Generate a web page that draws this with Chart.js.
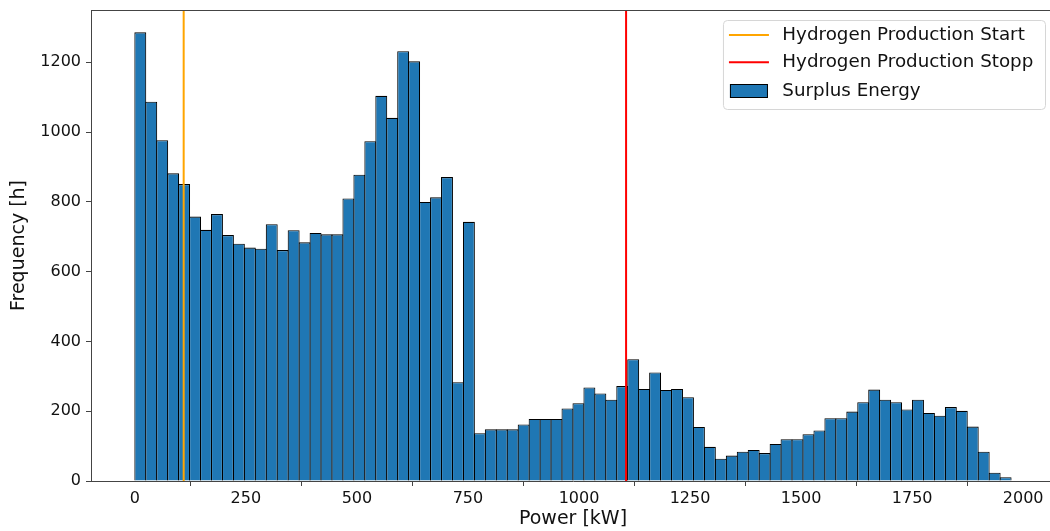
<!DOCTYPE html>
<html>
<head>
<meta charset="utf-8">
<script src="https://cdn.jsdelivr.net/npm/chart.js@4/dist/chart.umd.min.js"></script>
<style>
  html, body { margin: 0; padding: 0; background: #ffffff; overflow: hidden; }
  #wrap { width: 1055px; height: 531px; }
</style>
</head>
<body>
<div id="wrap"><canvas id="c" width="1055" height="531"></canvas></div>
<script>
// ---- data ----
const binWidth = 24.66;          // kW per histogram bin
const binCounts = [
  1286, 1087, 977, 882, 851, 758, 720, 765, 705, 680,
  669, 666, 736, 662, 719, 684, 711, 707, 707, 810,
  878, 974, 1104, 1041, 1232, 1203, 800, 813, 871, 283,
  743, 137, 148, 148, 148, 162, 178, 178, 178, 208,
  223, 268, 251, 233, 272, 349, 264, 311, 261, 264,
  240, 155, 98, 64, 73, 84, 89, 80, 106, 120,
  120, 134, 145, 180, 180, 199, 226, 262, 233, 226,
  205, 233, 195, 187, 212, 201, 156, 84, 24, 11
];
const startPower = 110;          // Hydrogen Production Start [kW]
const stopPower = 1106;          // Hydrogen Production Stopp [kW]
const xTickValues = [0, 250, 500, 750, 1000, 1250, 1500, 1750, 2000];
const yTickValues = [0, 200, 400, 600, 800, 1000, 1200];
const xMin = -98.65, xMax = 2071.65, yMax = 1350;
const labels = ['Hydrogen Production Start', 'Hydrogen Production Stopp', 'Surplus Energy'];
const colors = ['#ffa500', '#ff0000', '#1f77b4'];

const FONT = "'DejaVu Sans', sans-serif";

const barData = binCounts.map((v, i) => ({ x: i * binWidth + binWidth / 2, y: v }));

const framePlugin = {
  id: 'frame',
  afterDatasetsDraw(chart) {
    const { ctx, chartArea: a } = chart;
    ctx.save();
    ctx.strokeStyle = '#444';
    ctx.lineWidth = 1;
    ctx.beginPath();
    ctx.moveTo(a.left, a.top + 0.5);
    ctx.lineTo(a.right, a.top + 0.5);
    ctx.stroke();
    ctx.restore();
  }
};

const legendPlugin = {
  id: 'innerLegend',
  afterDraw(chart) {
    const { ctx, chartArea: a } = chart;
    ctx.save();
    ctx.font = "18.3px " + FONT;
    const maxW = Math.max(...labels.map(l => ctx.measureText(l).width));
    const right = 1045;
    const top = a.top + 10;
    const w = 59.4 + maxW + 11.7;
    const h = 89;
    const left = right - w;
    ctx.beginPath();
    if (ctx.roundRect) ctx.roundRect(left + 0.5, top + 0.5, w, h, 4); else ctx.rect(left + 0.5, top + 0.5, w, h);
    ctx.fillStyle = 'rgba(255,255,255,0.8)';
    ctx.fill();
    ctx.strokeStyle = '#d6d6d6';
    ctx.lineWidth = 1;
    ctx.stroke();
    const rowsY = [top + 15, top + 42.3, top + 71];
    labels.forEach((lab, i) => {
      const y = rowsY[i];
      if (i < 2) {
        ctx.strokeStyle = colors[i];
        ctx.lineWidth = 2;
        ctx.beginPath();
        ctx.moveTo(left + 6, y);
        ctx.lineTo(left + 46, y);
        ctx.stroke();
      } else {
        ctx.fillStyle = colors[i];
        ctx.fillRect(left + 7, y - 7, 38, 14);
        ctx.strokeStyle = '#000';
        ctx.lineWidth = 1;
        ctx.strokeRect(left + 7.5, y - 6.5, 37, 13);
      }
      ctx.fillStyle = '#111';
      ctx.textBaseline = 'middle';
      ctx.textAlign = 'left';
      ctx.fillText(lab, left + 59.4, y);
    });
    ctx.restore();
  }
};

new Chart(document.getElementById('c'), {
  type: 'bar',
  data: {
    datasets: [
      {
        type: 'line',
        label: labels[0],
        data: [{ x: startPower, y: 0 }, { x: startPower, y: yMax }],
        borderColor: colors[0],
        borderWidth: 2,
        pointRadius: 0,
        fill: false,
        order: 0
      },
      {
        type: 'line',
        label: labels[1],
        data: [{ x: stopPower, y: 0 }, { x: stopPower, y: yMax }],
        borderColor: colors[1],
        borderWidth: 2,
        pointRadius: 0,
        fill: false,
        order: 0
      },
      {
        type: 'bar',
        label: labels[2],
        data: barData,
        backgroundColor: colors[2],
        borderColor: '#000',
        borderWidth: 1.1,
        categoryPercentage: 1,
        barPercentage: 1.09,
        grouped: false,
        order: 1
      }
    ]
  },
  options: {
    responsive: false,
    devicePixelRatio: 1,
    animation: false,
    layout: { padding: { left: 0, top: 10, right: 0, bottom: 0 } },
    plugins: { legend: { display: false }, tooltip: { enabled: false } },
    scales: {
      x: {
        type: 'linear',
        min: xMin,
        max: xMax,
        offset: false,
        afterFit(s) { s.height = 50; s.paddingLeft = 0; s.paddingRight = 0; },
        afterBuildTicks(s) { s.ticks = xTickValues.map(v => ({ value: v })); },
        grid: { display: true, drawOnChartArea: false, drawTicks: true, tickLength: 5, tickColor: '#444' },
        border: { display: true, color: '#444', width: 1 },
        ticks: { color: '#111', font: { family: FONT, size: 16 }, padding: 3, maxRotation: 0, autoSkip: false, callback: v => String(v) },
        title: { display: true, text: 'Power [kW]', color: '#111', font: { family: FONT, size: 19 }, padding: { top: 1, bottom: 1 } }
      },
      y: {
        type: 'linear',
        min: 0,
        max: yMax,
        afterFit(s) { s.width = 91; s.paddingTop = 0; s.paddingBottom = 0; },
        afterBuildTicks(s) { s.ticks = yTickValues.map(v => ({ value: v })); },
        grid: { display: true, drawOnChartArea: false, drawTicks: true, tickLength: 5, tickColor: '#444' },
        border: { display: true, color: '#444', width: 1 },
        ticks: { color: '#111', font: { family: FONT, size: 16 }, padding: 5, autoSkip: false, callback: v => String(v) },
        title: { display: true, text: 'Frequency [h]', color: '#111', font: { family: FONT, size: 19 }, padding: { top: 8, bottom: 8 } }
      }
    }
  },
  plugins: [framePlugin, legendPlugin]
});
</script>
</body>
</html>
